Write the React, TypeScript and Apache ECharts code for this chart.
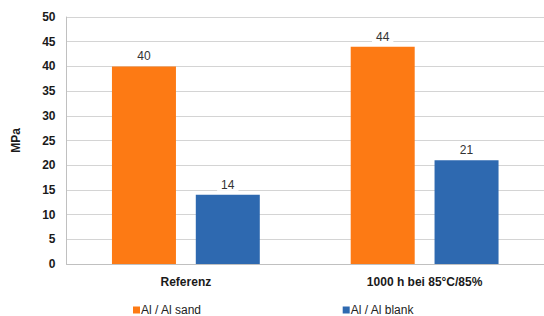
import React, { useEffect, useRef } from "react";
import * as echarts from "echarts";

const categories = ["Referenz", "1000 h bei 85°C/85%"];
const sandValues = [40, 44];
const blankValues = [14, 21];
const seriesNames = ["Al / Al sand", "Al / Al blank"];
const yTicks = { min: 0, max: 50, interval: 5 };

export default function App() {
  const ref = useRef<HTMLDivElement>(null);
  useEffect(() => {
    const chart = echarts.init(ref.current!, null, { renderer: "svg" });
    const font = "'Liberation Sans', Arial, sans-serif";
    const labelCfg = {
      show: true,
      position: "top" as const,
      distance: 4,
      color: "#333",
      fontSize: 12,
      fontFamily: font,
      backgroundColor: "#fff",
      padding: [1, 4, 0, 4],
    };
    chart.setOption({
      animation: false,
      textStyle: { fontFamily: font },
      grid: { left: 66.5, top: 17, bottom: 52, right: -9, containLabel: false },
      legend: {
        left: 128,
        top: 299,
        itemWidth: 7,
        itemHeight: 7,
        itemGap: 141,
        icon: "rect",
        textStyle: { fontSize: 12, color: "#222", fontFamily: font, padding: [0, 0, 0, -4] },
        data: seriesNames,
      },
      xAxis: {
        type: "category",
        data: categories,
        axisLine: { lineStyle: { color: "#c0c0c0", width: 1 } },
        axisTick: { show: false },
        axisLabel: { fontSize: 12, fontWeight: "bold", color: "#1a1a1a", margin: 12, fontFamily: font },
      },
      yAxis: {
        type: "value",
        min: yTicks.min,
        max: yTicks.max,
        interval: yTicks.interval,
        name: "MPa",
        nameLocation: "middle",
        nameGap: 45,
        nameTextStyle: { fontSize: 12, fontWeight: "bold", color: "#1a1a1a", fontFamily: font },
        axisLine: { show: true, lineStyle: { color: "#c0c0c0" } },
        axisTick: { show: false },
        axisLabel: { fontSize: 12, fontWeight: "bold", color: "#1a1a1a", margin: 11, fontFamily: font },
        splitLine: { lineStyle: { color: "#d4d4d4" } },
      },
      series: [
        {
          name: seriesNames[0],
          type: "bar",
          data: sandValues,
          barWidth: 64,
          barGap: "31%",
          itemStyle: { color: "#fd7a14" },
          label: labelCfg,
        },
        {
          name: seriesNames[1],
          type: "bar",
          data: blankValues,
          barWidth: 64,
          itemStyle: { color: "#2e69b0" },
          label: labelCfg,
        },
      ],
    });
    return () => chart.dispose();
  }, []);
  return <div ref={ref} style={{ width: 544, height: 316, position: "absolute", left: 0, top: 0 }} />;
}
